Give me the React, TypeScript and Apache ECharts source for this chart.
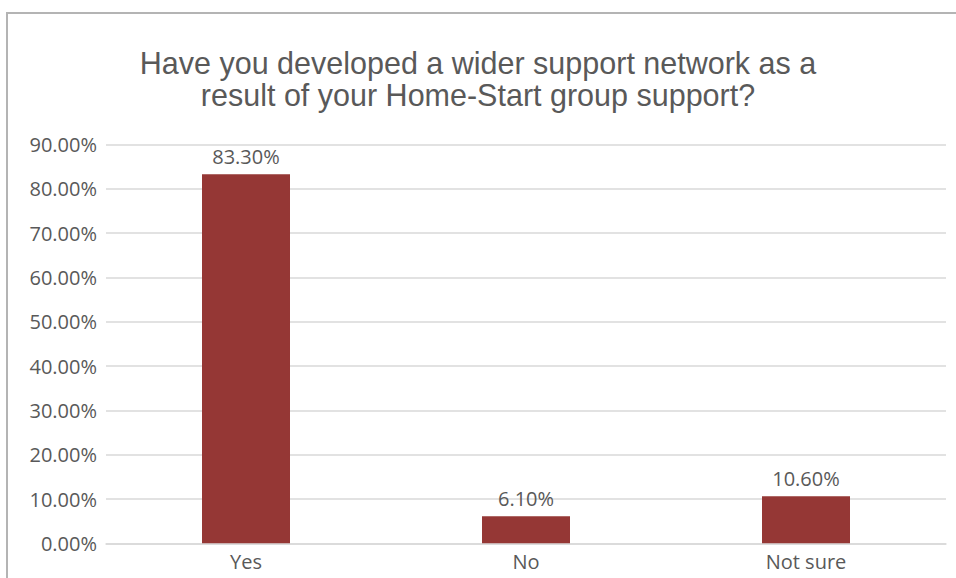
import React, { useEffect, useRef } from "react";
import * as echarts from "echarts";

const titleLines = [
  "Have you developed a wider support network as a",
  "result of your Home-Start group support?",
];
const categories = ["Yes", "No", "Not sure"];
const values = [83.3, 6.1, 10.6];
const yMin = 0;
const yMax = 90;
const yInterval = 10;

const textColor = "#595959";
const barColor = "#953735";
const gridColor = "#d9d9d9";
const font = "'Open Sans', 'Liberation Sans', sans-serif";

export default function App() {
  const ref = useRef<HTMLDivElement>(null);

  useEffect(() => {
    if (!ref.current) return;
    const chart = echarts.init(ref.current, undefined, { renderer: "svg" });
    chart.setOption({
      animation: false,
      backgroundColor: "#ffffff",
      title: {
        text: titleLines.join("\n"),
        left: "center",
        top: 42,
        textStyle: {
          fontFamily: "'Liberation Sans', Arial, sans-serif",
          fontSize: 30.5,
          fontWeight: "normal",
          color: textColor,
          lineHeight: 32,
        },
      },
      graphic: [
        {
          type: "rect",
          silent: true,
          shape: { x: 7, y: 13, width: 1000, height: 1000 },
          style: { fill: "none", stroke: "#b4b4b4", lineWidth: 2 },
          z: 100,
        },
      ],
      grid: {
        left: 106,
        right: 10,
        top: 144.6,
        bottom: 34.7,
      },
      xAxis: {
        type: "category",
        data: categories,
        axisLine: { show: true, lineStyle: { color: gridColor, width: 1.5 } },
        axisTick: { show: false },
        axisLabel: {
          color: textColor,
          fontFamily: font,
          fontSize: 20,
          margin: 8,
        },
      },
      yAxis: {
        type: "value",
        min: yMin,
        max: yMax,
        interval: yInterval,
        axisLine: { show: false },
        axisTick: { show: false },
        splitLine: { lineStyle: { color: gridColor, width: 1.5 } },
        axisLabel: {
          color: textColor,
          fontFamily: font,
          fontSize: 20,
          margin: 9,
          formatter: (v: number) => v.toFixed(2) + "%",
        },
      },
      series: [
        {
          type: "bar",
          data: values,
          barWidth: 88,
          itemStyle: { color: barColor },
          label: {
            show: true,
            position: "top",
            distance: 8,
            color: textColor,
            fontFamily: font,
            fontSize: 20,
            formatter: (p: any) => Number(p.value).toFixed(2) + "%",
          },
        },
      ],
    });
    return () => chart.dispose();
  }, []);

  return (
    <div
      ref={ref}
      style={{ position: "fixed", left: 0, top: 0, width: 956, height: 578 }}
    />
  );
}
